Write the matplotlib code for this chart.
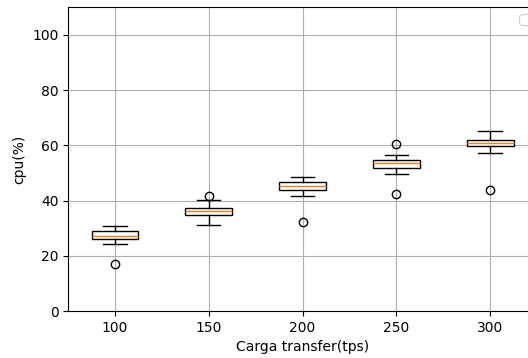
import matplotlib
matplotlib.use('Agg')
import matplotlib.pyplot as plt

loads = [100, 150, 200, 250, 300]
medians = [27.2, 36.1, 45.2, 53.5, 61.0]
q1 = [26.1, 34.8, 43.7, 51.7, 59.6]
q3 = [29.0, 37.4, 46.9, 54.8, 62.1]
whislo = [24.4, 31.2, 41.5, 49.5, 57.1]
whishi = [30.8, 40.1, 48.5, 56.6, 65.1]
fliers = [[17.2], [41.6], [32.1], [60.5, 42.2], [43.9]]


def buildStats():
    stats = []
    for i in range(len(loads)):
        stats.append({'med': medians[i], 'q1': q1[i], 'q3': q3[i],
                      'whislo': whislo[i], 'whishi': whishi[i],
                      'fliers': fliers[i], 'label': str(loads[i])})
    return stats


fig = plt.figure(figsize=(5.28, 3.58), dpi=100)
ax = fig.add_axes([0.129, 0.131, 0.888, 0.849])

ax.bxp(buildStats(), positions=range(1, len(loads) + 1), patch_artist=True,
       boxprops={'facecolor': 'white', 'edgecolor': 'black'})
ax.set_xlim(0.5, len(loads) + 0.5)
ax.set_ylim(0, 110)
ax.set_yticks([0, 20, 40, 60, 80, 100])
ax.grid(True)
ax.set_axisbelow(True)
ax.set_xlabel('Carga transfer(tps)')
ax.set_ylabel('cpu(%)')
ax.legend(loc='upper right')

fig.savefig('out.png', dpi=100)
